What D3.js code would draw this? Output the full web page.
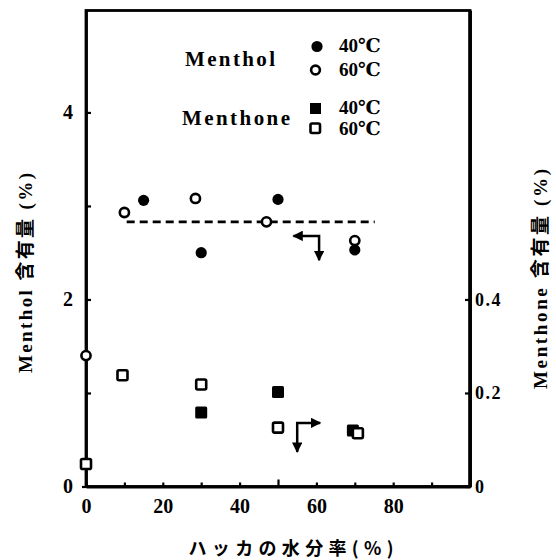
<!DOCTYPE html>
<html><head><meta charset="utf-8">
<script src="https://cdn.jsdelivr.net/npm/d3@7"></script>
<style>
html,body{margin:0;padding:0;background:#fff;}
svg{display:block;}
text{fill:#000;}
</style></head>
<body>
<svg id="chart" width="556" height="560"></svg>
<script>
// ---- data ----
const menthol40X = [15, 30, 50, 70];
const menthol40Y = [3.06, 2.50, 3.07, 2.53];
const menthol60X = [0, 10, 28.5, 47, 70];
const menthol60Y = [1.40, 2.93, 3.08, 2.83, 2.63];
const menthone40X = [30, 50, 69.5];
const menthone40Y = [0.158, 0.202, 0.120];
const menthone60X = [0, 9.5, 30, 50, 70.8];
const menthone60Y = [0.048, 0.238, 0.218, 0.126, 0.114];
const mentholMeanX = [10.6, 75.2];
const mentholMeanY = [2.83, 2.83];
const xTickValues = [0, 10, 20, 30, 40, 50, 60, 70, 80, 90];
const xTickLabels = ["0", "20", "40", "60", "80"];
const yLeftTicks = [0, 1, 2, 3, 4];
const yLeftLabels = ["0", "2", "4"];
const yRightTicks = [0, 0.2, 0.4];
const yRightLabels = ["0", "0.2", "0.4"];
const legendGroups = ["Menthol", "Menthone"];
const legendTemps = ["40℃", "60℃"];
const xTitle = "ハッカの水分率(%)";
const yLeftTitle = "Menthol 含有量 (%)";
const yRightTitle = "Menthone 含有量 (%)";
// arrows (in left-axis data units): [x, y] points
const arrowLeftAxis = [[54, 2.68], [60.7, 2.68], [60.7, 2.42]];
const arrowRightAxis = [[55, 0.37], [55, 0.68], [61, 0.68]];

// ---- scales ----
const svg = d3.select("#chart");
const L = 86, R = 470, T = 10.5, B = 486.5;
const yMax = 5.09;
const x = d3.scaleLinear().domain([0, 100]).range([L, R]);
const yL = d3.scaleLinear().domain([0, yMax]).range([B, T]);
const yR = d3.scaleLinear().domain([0, yMax / 5]).range([B, T]);

const serif = "'Liberation Serif','DejaVu Serif',serif";
const cjk = "'Liberation Serif','Noto Sans CJK JP',serif";

// frame (drawn as one rectangle)
svg.append("rect").attr("class", "frame")
  .attr("x", x(0)).attr("y", yL(yMax))
  .attr("width", x(100) - x(0)).attr("height", yL(0) - yL(yMax))
  .style("fill", "none").style("stroke", "#000").style("stroke-width", "2.8px");
svg.append("line").attr("x1", x(100)).attr("x2", x(100)).attr("y1", yL(yMax)).attr("y2", yL(0))
  .style("stroke", "#000").style("stroke-width", "3.4px");

// left axis
const axL = svg.append("g").attr("transform", `translate(${L},0)`)
  .call(d3.axisLeft(yL).tickValues(yLeftTicks).tickSizeInner(-5).tickSizeOuter(0).tickPadding(13)
    .tickFormat(d => yLeftLabels.includes(String(d)) ? String(d) : ""));
// right axis
const axR = svg.append("g").attr("transform", `translate(${R},0)`)
  .call(d3.axisRight(yR).tickValues(yRightTicks).tickSizeInner(-5).tickSizeOuter(0).tickPadding(5)
    .tickFormat((d, i) => yRightLabels[i]));
// bottom axis
const axB = svg.append("g").attr("transform", `translate(0,${B})`)
  .call(d3.axisBottom(x).tickValues(xTickValues).tickSizeInner(-4).tickSizeOuter(0).tickPadding(12)
    .tickFormat(d => xTickLabels.includes(String(d)) ? String(d) : ""));
axB.selectAll(".tick line").filter(d => d === 50).attr("y2", -7);
axL.selectAll(".tick line").filter(d => d === 0).attr("x2", -4);

[axL, axR, axB].forEach(a => {
  a.select(".domain").style("stroke", "#000").style("stroke-width", "2.8px");
  a.selectAll(".tick line").style("stroke", "#000").style("stroke-width", "2.2px");
  a.selectAll(".tick text").attr("font-family", serif).attr("font-weight", "bold")
    .attr("font-size", 20).style("fill", "#000");
});
axR.selectAll(".tick text").attr("letter-spacing", 1.5).attr("font-size", 18);

// dashed mean line
svg.append("path")
  .attr("d", d3.line().x(d => x(d[0])).y(d => yL(d[1]))(mentholMeanX.map((v, i) => [v, mentholMeanY[i]])))
  .style("stroke", "#000").style("stroke-width", "2.6px").attr("stroke-dasharray", "8,5").style("fill", "none");

// markers
function circles(xs, ys, filled) {
  svg.append("g").selectAll("circle").data(xs.map((v, i) => [v, ys[i]])).join("circle")
    .attr("cx", d => x(d[0])).attr("cy", d => yL(d[1]))
    .attr("r", filled ? 5.6 : 4.6)
    .attr("fill", filled ? "#000" : "#fff").attr("stroke", "#000").attr("stroke-width", filled ? 0 : 2.6);
}
function squares(xs, ys, filled) {
  const s = filled ? 12 : 10;
  svg.append("g").selectAll("rect").data(xs.map((v, i) => [v, ys[i]])).join("rect")
    .attr("x", d => x(d[0]) - s / 2).attr("y", d => yR(d[1]) - s / 2)
    .attr("width", s).attr("height", s).attr("rx", 1.5)
    .attr("fill", filled ? "#000" : "#fff").attr("stroke", "#000").attr("stroke-width", filled ? 0 : 2.6);
}
circles(menthol60X, menthol60Y, false);
circles(menthol40X, menthol40Y, true);
squares(menthone40X, menthone40Y, true);
squares(menthone60X, menthone60Y, false);

// arrows
const defs = svg.append("defs");
defs.append("marker").attr("id", "ah").attr("viewBox", "0 0 10 10").attr("refX", 9).attr("refY", 5)
  .attr("markerWidth", 4.2).attr("markerHeight", 4.2).attr("markerUnits", "strokeWidth").attr("orient", "auto-start-reverse")
  .append("path").attr("d", "M0,0L10,5L0,10Z").attr("fill", "#000");
const ln = d3.line().x(d => x(d[0])).y(d => yL(d[1]));
svg.append("path").attr("d", ln(arrowLeftAxis)).attr("fill", "none").attr("stroke", "#000")
  .attr("stroke-width", 2.5).attr("marker-start", "url(#ah)").attr("marker-end", "url(#ah)");
svg.append("path").attr("d", ln(arrowRightAxis)).attr("fill", "none").attr("stroke", "#000")
  .attr("stroke-width", 2.5).attr("marker-start", "url(#ah)").attr("marker-end", "url(#ah)");

// legend
const lg = svg.append("g");
lg.append("text").attr("x", 185).attr("y", 66).text(legendGroups[0])
  .attr("font-family", serif).attr("font-weight", "bold").attr("font-size", 21)
  .attr("textLength", 90).attr("lengthAdjust", "spacing");
lg.append("text").attr("x", 182).attr("y", 125).text(legendGroups[1])
  .attr("font-family", serif).attr("font-weight", "bold").attr("font-size", 21)
  .attr("textLength", 108).attr("lengthAdjust", "spacing");
lg.append("circle").attr("cx", 317).attr("cy", 46.5).attr("r", 5.6).attr("fill", "#000");
lg.append("circle").attr("cx", 315.5).attr("cy", 70).attr("r", 4.4).attr("fill", "#fff").attr("stroke", "#000").attr("stroke-width", 2.6);
lg.append("rect").attr("x", 310).attr("y", 103).attr("width", 11).attr("height", 11).attr("fill", "#000");
lg.append("rect").attr("x", 310.5).attr("y", 123.5).attr("width", 9.5).attr("height", 9.5).attr("rx", 1.5)
  .attr("fill", "#fff").attr("stroke", "#000").attr("stroke-width", 2.6);
[[52, 0], [76, 1], [114, 0], [135, 1]].forEach(([yy, k]) => {
  lg.append("text").attr("x", 339).attr("y", yy).text(legendTemps[k])
    .attr("font-family", "'Liberation Serif','DejaVu Serif',serif").attr("font-weight", "bold").attr("font-size", 19)
    .attr("textLength", 42).attr("lengthAdjust", "spacingAndGlyphs");
});

// axis titles
svg.append("text").attr("x", 291).attr("y", 555).attr("text-anchor", "middle").text(xTitle)
  .attr("font-family", "'Noto Sans CJK JP',sans-serif").attr("font-weight", "bold").attr("font-size", 18)
  .attr("textLength", 205).attr("lengthAdjust", "spacing");
svg.append("text").attr("transform", "translate(32,273) rotate(-90)").attr("text-anchor", "middle").text(yLeftTitle)
  .attr("font-family", cjk).attr("font-weight", "bold").attr("font-size", 19)
  .attr("textLength", 200).attr("lengthAdjust", "spacing");
svg.append("text").attr("transform", "translate(547,279) rotate(-90)").attr("text-anchor", "middle").text(yRightTitle)
  .attr("font-family", cjk).attr("font-weight", "bold").attr("font-size", 19)
  .attr("textLength", 220).attr("lengthAdjust", "spacing");
</script>
</body></html>
